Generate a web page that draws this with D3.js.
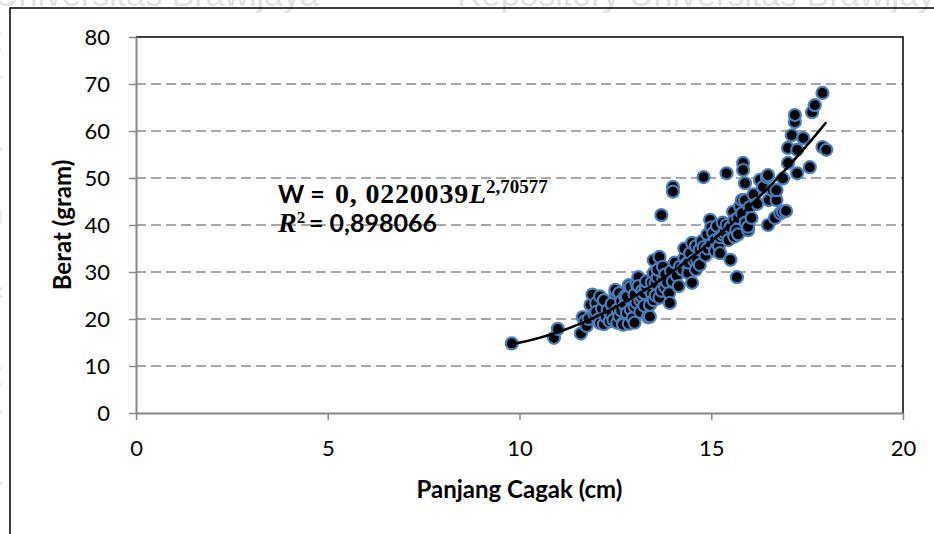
<!DOCTYPE html>
<html>
<head>
<meta charset="utf-8">
<script src="https://cdn.jsdelivr.net/npm/d3@7"></script>
<style>
  html, body { margin: 0; padding: 0; background: #fff; }
  svg { display: block; }
</style>
</head>
<body>
<svg id="chart" width="934" height="534"></svg>
<script>
// Fork length (cm) and body weight (gram) of each fish
const panjang = [
  9.8, 10.9, 11.0, 11.6, 11.65, 11.7, 11.75, 11.8, 11.85, 11.9, 11.95, 12.0, 12.0, 12.05, 12.1, 12.1,
  12.15, 12.2, 12.2, 12.25, 12.3, 12.35, 12.4, 12.4, 12.45, 12.5, 12.5, 12.55, 12.55, 12.6, 12.6,
  12.65, 12.65, 12.7, 12.7, 12.75, 12.75, 12.8, 12.8, 12.85, 12.85, 12.9, 12.9, 12.95, 13.0, 13.0,
  13.0, 13.05, 13.05, 13.1, 13.1, 13.15, 13.15, 13.2, 13.2, 13.25, 13.25, 13.3, 13.3, 13.35, 13.4,
  13.4, 13.45, 13.45, 13.5, 13.5, 13.5, 13.55, 13.55, 13.6, 13.6, 13.65, 13.65, 13.7, 13.7, 13.74,
  13.75, 13.8, 13.8, 13.85, 13.9, 13.92, 13.95, 14.0, 14.0, 14.0, 14.05, 14.1, 14.15, 14.18, 14.25,
  14.3, 14.3, 14.35, 14.4, 14.4, 14.45, 14.5, 14.5, 14.55, 14.6, 14.6, 14.63, 14.7, 14.7, 14.75,
  14.8, 14.8, 14.85, 14.9, 14.9, 14.97, 15.0, 15.0, 15.05, 15.1, 15.1, 15.15, 15.2, 15.23, 15.23,
  15.3, 15.3, 15.35, 15.4, 15.4, 15.45, 15.5, 15.5, 15.57, 15.6, 15.6, 15.65, 15.67, 15.7, 15.7,
  15.75, 15.8, 15.8, 15.83, 15.83, 15.88, 15.88, 15.9, 15.96, 15.96, 16.0, 16.05, 16.1, 16.2, 16.27,
  16.35, 16.45, 16.48, 16.48, 16.5, 16.6, 16.66, 16.7, 16.7, 16.8, 16.87, 16.87, 16.95, 17.0, 17.0,
  17.1, 17.18, 17.18, 17.24, 17.24, 17.4, 17.57, 17.63, 17.7, 17.9, 17.9, 18.0
];
const berat = [
  14.8, 16.0, 17.9, 16.9, 20.4, 19.5, 18.5, 20.0, 23.0, 25.2, 21.0, 23.4, 21.5, 19.9, 19.1, 24.8,
  22.2, 24.0, 18.9, 20.5, 21.9, 19.5, 23.2, 21.0, 19.8, 25.5, 26.2, 22.0, 19.2, 25.5, 20.6,
  23.8, 21.8, 19.1, 18.8, 24.8, 22.9, 21.3, 24.7, 27.2, 19.0, 26.8, 22.0, 20.2, 22.6, 25.2,
  19.2, 23.5, 27.5, 28.9, 27.0, 24.0, 21.5, 24.7, 26.0, 22.8, 25.5, 26.8, 28.0, 20.4, 20.5,
  23.0, 25.5, 27.8, 24.0, 29.8, 32.5, 27.5, 25.0, 28.9, 30.5, 33.2, 24.5, 42.1, 26.0, 31.1,
  28.5, 29.5, 26.7, 27.8, 25.5, 23.4, 30.2, 48.1, 47.1, 28.0, 32.0, 29.2, 27.0, 31.1, 30.5,
  33.0, 35.0, 31.8, 29.8, 32.0, 34.0, 36.2, 27.7, 32.5, 35.5, 30.5, 32.6, 34.8, 31.5, 36.5,
  35.3, 50.2, 33.5, 38.0, 35.0, 41.1, 36.0, 39.5, 38.3, 34.5, 36.8, 39.8, 35.5, 34.0, 37.4,
  40.5, 38.0, 38.5, 51.0, 40.0, 36.8, 32.6, 39.5, 42.8, 41.0, 37.5, 39.0, 28.9, 38.0, 41.5,
  44.0, 45.3, 42.5, 53.2, 51.7, 48.9, 45.3, 40.5, 38.9, 39.6, 43.8, 41.5, 46.5, 44.5, 49.6,
  48.1, 50.2, 50.6, 40.0, 45.3, 47.4, 41.5, 45.3, 47.4, 42.5, 49.9, 42.8, 43.0, 53.2, 56.4,
  59.1, 61.9, 63.4, 56.0, 51.0, 58.5, 52.3, 64.0, 65.5, 68.1, 56.6, 56.0
];

const xTicks = [0, 5, 10, 15, 20];
const yTicks = [0, 10, 20, 30, 40, 50, 60, 70, 80];
const equationCoef = "0, 0220039";
const equationExp = "2,70577";
const rSquared = "0,898066";

const svg = d3.select("#chart");

// faint repository watermark
const wmFont = "Liberation Sans, Arial, sans-serif";
svg.append("text")
  .attr("x", -6).attr("y", 6)
  .attr("font-family", wmFont).attr("font-size", 34).attr("fill", "#e2e2e2")
  .text("Universitas Brawijaya");
svg.append("text")
  .attr("x", 457).attr("y", 6)
  .attr("font-family", wmFont).attr("font-size", 34).attr("fill", "#e2e2e2")
  .text("Repository Universitas Brawijaya");
svg.append("text")
  .attr("transform", "translate(-22,30) rotate(90)")
  .attr("font-family", wmFont).attr("font-size", 34).attr("fill", "#e6e6e6")
  .text("Universitas Brawijaya Universitas Brawijaya");

// chart frame
svg.append("rect")
  .attr("x", 10).attr("y", 8).attr("width", 940).attr("height", 540)
  .attr("fill", "none").attr("stroke", "#000").attr("stroke-width", 1.5);

const x = d3.scaleLinear().domain([0, 20]).range([136, 903]);
const y = d3.scaleLinear().domain([0, 80]).range([413, 37]);

// dashed horizontal gridlines
svg.append("g")
  .selectAll("line")
  .data(yTicks.filter(v => v > 0 && v < 80))
  .join("line")
  .attr("x1", x(0)).attr("x2", x(20))
  .attr("y1", d => y(d)).attr("y2", d => y(d))
  .attr("stroke", "#8a8a8a").attr("stroke-width", 1.6)
  .attr("stroke-dasharray", "10,5");

// plot-area border (top and right)
svg.append("path")
  .attr("d", `M${x(0)},${y(80)}H${x(20)}V${y(0)}`)
  .attr("fill", "none").attr("stroke", "#000").attr("stroke-width", 1.5);

const tickFont = "Lato, 'Open Sans', sans-serif";

const xAxis = svg.append("g")
  .attr("transform", `translate(0,${y(0)})`)
  .call(d3.axisBottom(x).tickValues(xTicks).tickSize(7).tickSizeOuter(0).tickPadding(20));
const yAxis = svg.append("g")
  .attr("transform", `translate(${x(0)},0)`)
  .call(d3.axisLeft(y).tickValues(yTicks).tickSize(7).tickSizeOuter(0).tickPadding(19));

[xAxis, yAxis].forEach(g => {
  g.select(".domain").attr("stroke", "#868686").attr("stroke-width", 2);
  g.selectAll(".tick line").attr("stroke", "#868686").attr("stroke-width", 1.5);
  g.selectAll(".tick text")
    .attr("font-family", tickFont).attr("font-size", 22).attr("fill", "#000");
});

// axis titles
svg.append("text")
  .attr("x", (x(0) + x(20)) / 2).attr("y", 498)
  .attr("text-anchor", "middle")
  .attr("font-family", tickFont).attr("font-weight", "bold").attr("font-size", 24)
  .text("Panjang Cagak (cm)");
svg.append("text")
  .attr("transform", `translate(71,${(y(0) + y(80)) / 2}) rotate(-90)`)
  .attr("text-anchor", "middle")
  .attr("font-family", tickFont).attr("font-weight", "bold").attr("font-size", 24)
  .text("Berat (gram)");

// scatter points
const data = panjang.map((L, i) => ({ L, W: berat[i] }));
svg.append("g")
  .selectAll("circle")
  .data(data)
  .join("circle")
  .attr("cx", d => x(d.L)).attr("cy", d => y(d.W))
  .attr("r", 6)
  .attr("fill", "#000")
  .attr("stroke", "#4a7ebb").attr("stroke-width", 2.2);

// least-squares trend curve (second-order) through the points
function fitQuadratic(xs, ys) {
  const m = d3.mean(xs);
  const u = xs.map(v => v - m);
  const S = k => d3.sum(u, v => v ** k);
  const T = k => d3.sum(u, (v, i) => v ** k * ys[i]);
  const A = [[S(0), S(1), S(2)], [S(1), S(2), S(3)], [S(2), S(3), S(4)]];
  const B = [T(0), T(1), T(2)];
  // Gaussian elimination
  for (let i = 0; i < 3; i++) {
    for (let j = i + 1; j < 3; j++) {
      const f = A[j][i] / A[i][i];
      for (let k = i; k < 3; k++) A[j][k] -= f * A[i][k];
      B[j] -= f * B[i];
    }
  }
  const c = [0, 0, 0];
  for (let i = 2; i >= 0; i--) {
    let s = B[i];
    for (let k = i + 1; k < 3; k++) s -= A[i][k] * c[k];
    c[i] = s / A[i][i];
  }
  return L => c[0] + c[1] * (L - m) + c[2] * (L - m) ** 2;
}
const trendFn = fitQuadratic(panjang, berat);
const [lMin, lMax] = d3.extent(panjang);
const trend = d3.range(0, 101).map(i => {
  const L = lMin + (lMax - lMin) * i / 100;
  return [L, trendFn(L)];
});
svg.append("path")
  .datum(trend)
  .attr("d", d3.line().x(d => x(d[0])).y(d => y(d[1])))
  .attr("fill", "none").attr("stroke", "#000").attr("stroke-width", 2.5);

// regression equation
const serif = "'Liberation Serif', 'Times New Roman', serif";
const eq1 = svg.append("text").attr("y", 203).attr("font-weight", "bold");
eq1.append("tspan").attr("x", 278)
  .attr("font-family", tickFont).attr("font-size", 25).text("W =");
eq1.append("tspan").attr("x", 335)
  .attr("font-family", serif).attr("font-size", 28).attr("letter-spacing", 0.8).text(equationCoef);
eq1.append("tspan")
  .attr("font-family", serif).attr("font-size", 28).attr("font-style", "italic").text("L");
eq1.append("tspan").attr("dy", -10)
  .attr("font-family", serif).attr("font-size", 19).text(equationExp);

const eq2 = svg.append("text").attr("y", 232).attr("font-weight", "bold");
eq2.append("tspan").attr("x", 278)
  .attr("font-family", serif).attr("font-size", 28).attr("font-style", "italic").text("R");
eq2.append("tspan").attr("dy", -9)
  .attr("font-family", serif).attr("font-size", 17).text("2");
eq2.append("tspan").attr("x", 309).attr("dy", 9)
  .attr("font-family", tickFont).attr("font-size", 25).text("= " + rSquared);
</script>
</body>
</html>
